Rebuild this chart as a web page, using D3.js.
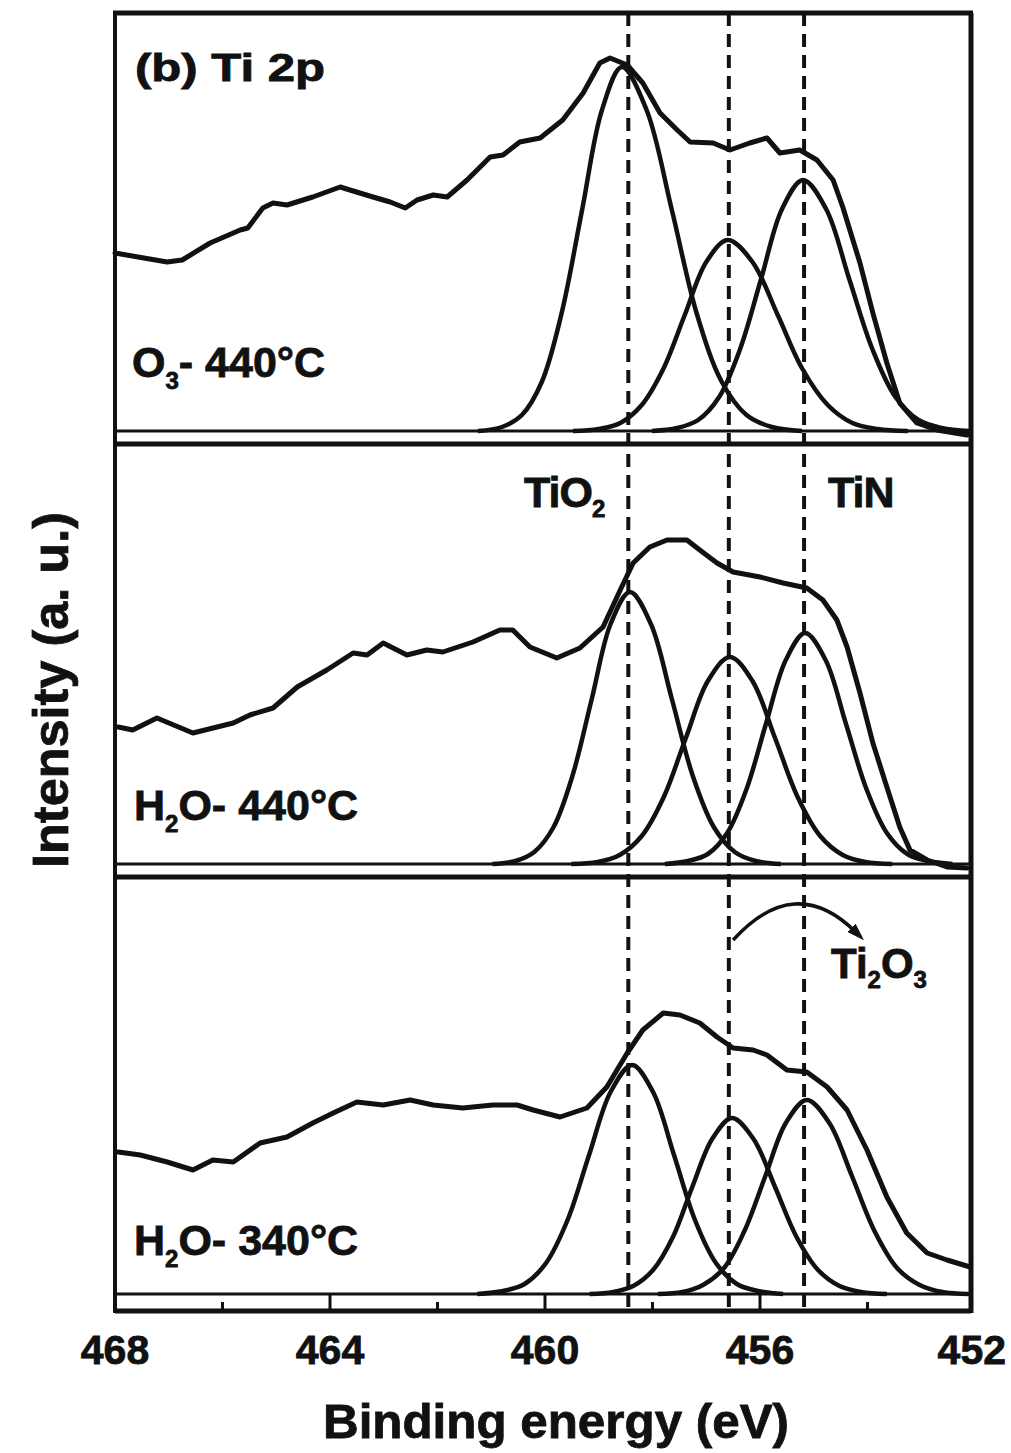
<!DOCTYPE html>
<html lang="en">
<head>
<meta charset="UTF-8">
<title>Ti 2p XPS</title>
<style>
  body { margin: 0; padding: 0; background: #fff; }
  svg { display: block; }
  text { font-family: 'Liberation Sans', Arial, sans-serif; font-weight: bold; fill: #111; stroke: #111; stroke-width: 0.8; }
  .frame { stroke: #111; fill: none; }
  .env { fill: none; stroke: #111; stroke-width: 5; stroke-linejoin: round; stroke-linecap: round; }
  .comp { fill: none; stroke: #111; stroke-width: 4.5; stroke-linejoin: round; }
  .ref { stroke: #111; stroke-width: 4; stroke-dasharray: 13 8; }
</style>
</head>
<body>
<div id="chart"></div>
<script src="https://cdn.jsdelivr.net/npm/d3@7/dist/d3.min.js"></script>
<script>
// x axis (binding energy, eV)
const majorTicks = [468, 464, 460, 456, 452];
const minorTicks = [466, 462, 458, 454];
const refLines = [458.45, 456.58, 455.18];   // TiO2, Ti2O3, TiN

// measured spectra, [energy, intensity a.u.]
const envO3_440 = [
  [468.00,178],[467.03,169],[466.75,171],[466.23,188],[465.67,201],[465.53,203],[465.25,223],
  [465.06,228],[464.80,226],[464.32,234],[463.81,244],[463.63,241],[463.20,234],[462.88,229],
  [462.60,223],[462.38,231],[462.08,236],[461.82,234],[461.45,251],[461.02,274],[460.78,276],
  [460.47,289],[460.09,293],[459.67,311],[459.29,338],[458.98,368],[458.79,373],[458.47,366],
  [458.18,348],[457.86,318],[457.54,301],[457.30,289],[456.87,288],[456.56,281],[456.19,288],
  [455.87,293],[455.63,278],[455.26,281],[454.94,271],[454.64,251],[454.46,224],[454.14,168],
  [453.90,118],[453.64,68],[453.40,28],[453.08,8],[452.71,1],[452.15,-4]
];
const envH2O_440 = [
  [467.94,137],[467.67,134],[467.22,146],[466.55,131],[465.80,141],[465.49,149],[465.06,156],
  [464.61,177],[464.06,194],[463.57,211],[463.31,209],[463.01,221],[462.57,209],[462.20,214],
  [461.90,212],[461.34,222],[460.84,234],[460.60,234],[460.28,217],[459.78,206],[459.35,216],
  [458.92,237],[458.60,274],[458.36,301],[458.05,317],[457.73,324],[457.36,324],[457.12,314],
  [456.80,301],[456.50,292],[456.00,287],[455.57,281],[455.13,276],[454.83,264],[454.57,244],
  [454.38,217],[454.14,171],[453.90,121],[453.64,77],[453.40,37],[453.21,14],[452.89,4],
  [452.52,-3],[452.15,-4]
];
const envH2O_340 = [
  [467.94,142],[467.53,139],[467.03,132],[466.55,124],[466.18,134],[465.80,132],[465.30,151],
  [464.80,157],[464.32,171],[463.94,181],[463.50,192],[463.01,189],[462.51,194],[462.08,189],
  [461.53,186],[460.97,189],[460.52,189],[460.22,184],[459.72,177],[459.22,186],[458.85,207],
  [458.47,241],[458.18,264],[457.80,281],[457.49,279],[457.12,271],[456.80,257],[456.50,246],
  [456.13,244],[455.87,239],[455.50,224],[455.13,222],[454.75,207],[454.38,184],[454.01,144],
  [453.64,97],[453.27,61],[452.89,41],[452.52,34],[452.09,27]
];

// fitted components
const tio2O3_440 = [
  [461.25,0],[460.80,4],[460.43,16],[460.06,49],[459.69,118],[459.31,221],[458.94,321],[458.57,364],
  [458.11,321],[457.64,221],[457.18,118],[456.71,49],[456.25,16],[455.78,4],[455.22,0]
];
const ti2o3O3_440 = [
  [459.48,0],[459.00,2],[458.60,8],[458.20,26],[457.80,62],[457.40,116],[457.00,169],[456.60,191],
  [456.14,169],[455.67,116],[455.21,62],[454.74,26],[454.28,8],[453.81,2],[453.25,0]
];
const tinO3_440 = [
  [458.01,0],[457.54,3],[457.15,11],[456.76,34],[456.37,82],[455.98,152],[455.59,222],[455.20,251],
  [454.77,222],[454.34,152],[453.91,82],[453.48,34],[453.05,11],[452.62,3],[452.10,0]
];
const tio2H2O_440 = [
  [460.98,0],[460.55,3],[460.20,12],[459.84,37],[459.49,88],[459.13,165],[458.78,240],[458.42,272],
  [458.03,240],[457.64,165],[457.25,88],[456.86,37],[456.47,12],[456.08,3],[455.61,0]
];
const ti2o3H2O_440 = [
  [459.51,0],[459.02,2],[458.61,9],[458.20,28],[457.79,67],[457.38,126],[456.97,183],[456.56,207],
  [456.14,183],[455.72,126],[455.30,67],[454.88,28],[454.46,9],[454.04,2],[453.54,0]
];
const tinH2O_440 = [
  [457.77,0],[457.34,3],[456.97,10],[456.61,31],[456.25,75],[455.89,140],[455.52,204],[455.16,231],
  [454.78,204],[454.40,140],[454.02,75],[453.64,31],[453.26,10],[452.88,3],[452.42,0]
];
const tio2H2O_340 = [
  [461.26,0],[460.78,3],[460.38,10],[459.98,31],[459.58,74],[459.18,139],[458.78,202],[458.38,229],
  [457.99,202],[457.60,139],[457.21,74],[456.82,31],[456.43,10],[456.04,3],[455.57,0]
];
const ti2o3H2O_340 = [
  [459.17,0],[458.73,2],[458.36,8],[457.99,24],[457.62,57],[457.26,107],[456.89,155],[456.52,176],
  [456.12,155],[455.72,107],[455.32,57],[454.92,24],[454.52,8],[454.12,2],[453.64,0]
];
const tinH2O_340 = [
  [457.90,0],[457.44,2],[457.06,9],[456.67,26],[456.29,63],[455.90,118],[455.52,171],[455.13,194],
  [454.71,171],[454.29,118],[453.87,63],[453.45,26],[453.03,9],[452.61,2],[452.11,0]
];

// sample labels: [main, subscript, rest]
const sampleLabels = [["O", "3", "- 440°C"], ["H", "2", "O- 440°C"], ["H", "2", "O- 340°C"]];

const W = 1011, H = 1453;
const svg = d3.select('#chart').append('svg').attr('width', W).attr('height', H);
svg.append('rect').attr('width', W).attr('height', H).attr('fill', '#fff');

const x = d3.scaleLinear().domain([468, 452]).range([115, 975]);
const xRight = 971, yTop = 13, yBottom = 1311;

// panel geometry: baseline, thick separator below it
const panels = [
  { env: envO3_440, comps: [tio2O3_440, ti2o3O3_440, tinO3_440], base: 431, sep: 444, labelY: 377 },
  { env: envH2O_440, comps: [tio2H2O_440, ti2o3H2O_440, tinH2O_440], base: 864, sep: 877, labelY: 820 },
  { env: envH2O_340, comps: [tio2H2O_340, ti2o3H2O_340, tinH2O_340], base: 1294, sep: yBottom, labelY: 1255 }
];

// dashed reference lines
svg.selectAll('.ref').data(refLines).enter().append('line')
  .attr('class', 'ref')
  .attr('x1', d => x(d)).attr('x2', d => x(d))
  .attr('y1', yTop).attr('y2', yBottom);

panels.forEach((p, i) => {
  const y = d3.scaleLinear().domain([0, 420]).range([p.base, p.base - 420]);
  const line = d3.line().x(d => x(d[0])).y(d => y(d[1]));
  const smooth = d3.line().x(d => x(d[0])).y(d => y(d[1])).curve(d3.curveCatmullRom.alpha(0.5));

  const g = svg.append('g');
  g.selectAll('.comp').data(p.comps).enter().append('path')
    .attr('class', 'comp')
    .attr('d', smooth);
  g.append('path').attr('class', 'env').attr('d', line(p.env));

  // baseline and separator
  g.append('line').attr('class', 'frame').attr('stroke-width', 3)
    .attr('x1', x(468)).attr('x2', xRight).attr('y1', p.base).attr('y2', p.base);
  g.append('line').attr('class', 'frame').attr('stroke-width', 5)
    .attr('x1', x(468)).attr('x2', xRight).attr('y1', p.sep).attr('y2', p.sep);

  const lab = sampleLabels[i];
  const t = g.append('text').attr('x', i === 0 ? 132 : 134).attr('y', p.labelY)
    .style('font-size', '43px');
  t.append('tspan').text(lab[0]);
  t.append('tspan').attr('dy', 12).style('font-size', '24px').text(lab[1]);
  t.append('tspan').attr('dy', -12).text(lab[2]);
});

// outer frame
svg.append('line').attr('class', 'frame').attr('stroke-width', 5)
  .attr('x1', x(468) - 2).attr('x2', xRight + 2).attr('y1', yTop).attr('y2', yTop);
svg.append('line').attr('class', 'frame').attr('stroke-width', 4)
  .attr('x1', x(468)).attr('x2', x(468)).attr('y1', yTop).attr('y2', yBottom + 2);
svg.append('line').attr('class', 'frame').attr('stroke-width', 5)
  .attr('x1', xRight).attr('x2', xRight).attr('y1', yTop).attr('y2', yBottom + 2);

// ticks in the bottom strip
svg.selectAll('.major').data(majorTicks.slice(1, -1)).enter().append('line')
  .attr('class', 'frame').attr('stroke-width', 3)
  .attr('x1', d => x(d)).attr('x2', d => x(d)).attr('y1', 1294).attr('y2', yBottom);
svg.selectAll('.minor').data(minorTicks).enter().append('line')
  .attr('class', 'frame').attr('stroke-width', 3)
  .attr('x1', d => x(d)).attr('x2', d => x(d)).attr('y1', 1302).attr('y2', yBottom);

// tick labels: last one is pinned inside the right edge
svg.selectAll('.tlab').data(majorTicks).enter().append('text')
  .attr('x', (d, i) => i === majorTicks.length - 1 ? W - 5 : x(d)).attr('y', 1364)
  .attr('text-anchor', (d, i) => i === majorTicks.length - 1 ? 'end' : 'middle')
  .style('font-size', '41px')
  .attr('transform', (d, i) => i === majorTicks.length - 1 ? null : null)
  .text(d => d);

svg.append('text').attr('x', 556).attr('y', 1438).attr('text-anchor', 'middle')
  .attr('textLength', 466).attr('lengthAdjust', 'spacingAndGlyphs')
  .style('font-size', '48px').text('Binding energy (eV)');

svg.append('text').attr('transform', 'translate(68,690) rotate(-90)')
  .attr('text-anchor', 'middle')
  .attr('textLength', 356).attr('lengthAdjust', 'spacingAndGlyphs')
  .style('font-size', '50px').text('Intensity (a. u.)');

svg.append('text').attr('x', 135).attr('y', 81)
  .attr('textLength', 190).attr('lengthAdjust', 'spacingAndGlyphs')
  .style('font-size', '38px').text('(b) Ti 2p');

// peak labels
const tio2 = svg.append('text').attr('x', 524).attr('y', 507).style('font-size', '43px')
  .attr('letter-spacing', -1);
tio2.append('tspan').text('TiO');
tio2.append('tspan').attr('dy', 10).style('font-size', '24px').text('2');

svg.append('text').attr('x', 828).attr('y', 507).style('font-size', '43px')
  .attr('letter-spacing', -1).text('TiN');

const ti2o3 = svg.append('text').attr('x', 831).attr('y', 978).style('font-size', '42px');
ti2o3.append('tspan').text('Ti');
ti2o3.append('tspan').attr('dy', 10).style('font-size', '24px').text('2');
ti2o3.append('tspan').attr('dy', -10).text('O');
ti2o3.append('tspan').attr('dy', 10).style('font-size', '24px').text('3');

// curved arrow toward TiN
const y3 = d3.scaleLinear().domain([0, 420]).range([1294, 874]);
svg.append('defs').append('marker')
  .attr('id', 'head').attr('viewBox', '0 0 12 8')
  .attr('refX', 4).attr('refY', 4)
  .attr('markerWidth', 5).attr('markerHeight', 3.5)
  .attr('markerUnits', 'strokeWidth')
  .attr('orient', 'auto')
  .append('path').attr('d', 'M0,0 L12,4 L0,8 Z').attr('fill', '#111');
const ap = d3.path();
ap.moveTo(x(456.50), y3(354));
ap.quadraticCurveTo(x(455.35), y3(422), x(454.22), y3(362));
svg.append('path').attr('d', ap.toString())
  .attr('fill', 'none').attr('stroke', '#111').attr('stroke-width', 3.5)
  .attr('marker-end', 'url(#head)');
</script>
</body>
</html>
